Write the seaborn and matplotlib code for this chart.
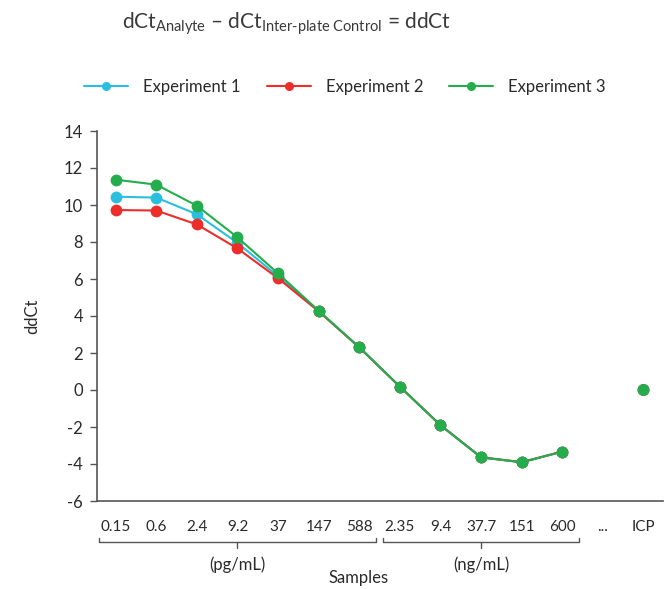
import numpy as np
import pandas as pd
import matplotlib
matplotlib.use("Agg")
import matplotlib.pyplot as plt
from matplotlib.lines import Line2D
import matplotlib.transforms as mtransforms
import seaborn as sns

# ---- data ----
samples = ["0.15", "0.6", "2.4", "9.2", "37", "147", "588",
           "2.35", "9.4", "37.7", "151", "600", "...", "ICP"]
experiments = ["Experiment 1", "Experiment 2", "Experiment 3"]
exp1 = [10.45, 10.4, 9.5, 7.95, 6.15, 4.27, 2.3, 0.18, -1.9, -3.64, -3.9, -3.33]
exp2 = [9.73, 9.7, 8.95, 7.65, 6.04, 4.25, 2.3, 0.18, -1.9, -3.64, -3.9, -3.33]
exp3 = [11.37, 11.1, 9.96, 8.25, 6.3, 4.28, 2.31, 0.18, -1.91, -3.64, -3.91, -3.33]
icp = [0.0, 0.0, 0.0]
units = [("(pg/mL)", "0.15", "588"), ("(ng/mL)", "2.35", "600")]
colors = ["#2bbfdf", "#ec2d2a", "#24ad4c"]

# ---- long-form tables ----
conc_rows = []
for name, vals in zip(experiments, [exp1, exp2, exp3]):
    for i, v in enumerate(vals):
        conc_rows.append({"pos": i, "ddCt": v, "Experiment": name})
conc_df = pd.DataFrame(conc_rows)
icp_df = pd.DataFrame({"pos": [samples.index("ICP")] * 3, "ddCt": icp,
                       "Experiment": experiments})

sns.set_theme(style="white")
plt.rcParams["font.family"] = ["Lato", "DejaVu Sans"]
plt.rcParams["mathtext.fontset"] = "custom"
plt.rcParams["mathtext.rm"] = "Lato"
plt.rcParams["mathtext.it"] = "Lato"
plt.rcParams["mathtext.bf"] = "Lato"
plt.rcParams["axes.unicode_minus"] = False

text_c = "#2a2a2a"
spine_c = "#555555"

fig = plt.figure(figsize=(6.72, 5.89), dpi=100)
ax = fig.add_axes([97 / 672, 88 / 589, 566 / 672, 370 / 589])

pal = dict(zip(experiments, colors))
sns.lineplot(data=conc_df, x="pos", y="ddCt", hue="Experiment", palette=pal,
             hue_order=experiments, marker="o", markersize=8.5,
             markeredgewidth=0, linewidth=1.5, legend=False, ax=ax,
             estimator=None, sort=False)
sns.scatterplot(data=icp_df, x="pos", y="ddCt", hue="Experiment", palette=pal,
                hue_order=experiments, s=72, linewidth=0, legend=False, ax=ax)

ax.set_xlim(-0.46, 13.48)
ax.set_ylim(-6, 14)
ax.set_yticks(np.arange(-6, 15, 2))
ax.set_xticks(range(len(samples)))
ax.set_xticklabels(samples)
ax.tick_params(axis="x", length=0, pad=14, labelsize=11, labelcolor=text_c)
ax.tick_params(axis="y", left=True, length=5, width=1, color=spine_c,
               pad=5, labelsize=12, labelcolor=text_c)
for side in ["top", "right"]:
    ax.spines[side].set_visible(False)
for side in ["left", "bottom"]:
    ax.spines[side].set_color(spine_c)
    ax.spines[side].set_linewidth(1.2)

ax.set_ylabel("ddCt", fontsize=12, color=text_c)
ax.yaxis.set_label_coords(-0.1, 0.5)
ax.set_xlabel("Samples", fontsize=12, color=text_c, va="center")
ax.xaxis.set_label_coords(262 / 566, -0.208)

# unit brackets under the sample labels
trans = mtransforms.blended_transform_factory(ax.transData, ax.transAxes)
for label, first, last in units:
    x0 = samples.index(first) - 0.42
    x1 = samples.index(last) + 0.42
    xm = (samples.index(first) + samples.index(last)) / 2
    ax.plot([x0, x0, x1, x1], [-0.1, -0.11, -0.11, -0.1], color=spine_c,
            lw=1, transform=trans, clip_on=False)
    ax.plot([xm, xm], [-0.11, -0.126], color=spine_c, lw=1,
            transform=trans, clip_on=False)
    ax.text(xm, -0.173, label, transform=trans, ha="center", va="center",
            fontsize=12, color=text_c)

# legend
handles = [Line2D([], [], color=c, lw=1.5, marker="o", markersize=6.5,
                  markeredgewidth=0) for c in colors]
fig.legend(handles, experiments, loc="center left",
           bbox_to_anchor=(84 / 672, 1 - 87 / 589), ncol=3, frameon=False,
           fontsize=12, handlelength=2.65, handletextpad=0.9,
           columnspacing=1.55, borderpad=0, borderaxespad=0,
           labelcolor=text_c)

# formula heading
fig.text(286.5 / 672, 1 - 28.5 / 589,
         r"$\mathrm{dCt}_{\mathrm{Analyte}}$ – "
         r"$\mathrm{dCt}_{\text{Inter-plate Control}}$ = ddCt",
         ha="center", va="baseline", fontsize=15, color="#3a3a3a")

fig.savefig("out.png", dpi=100)
